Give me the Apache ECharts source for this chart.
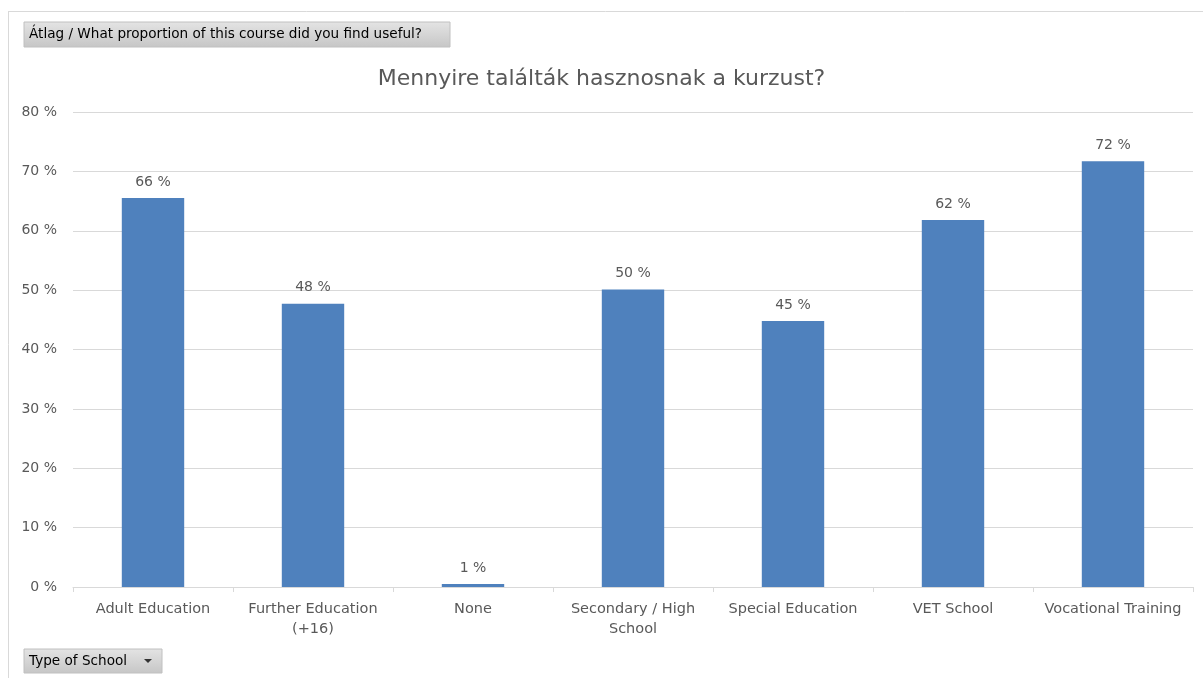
<!DOCTYPE html>
<html>
<head>
<meta charset="utf-8">
<script src="https://cdn.jsdelivr.net/npm/echarts@6/dist/echarts.min.js"></script>
<style>
  html, body { margin: 0; padding: 0; background: #fff; }
  #chart { width: 1203px; height: 678px; }
</style>
</head>
<body>
<div id="chart"></div>
<script>
// chart data
const schoolTypes = ['Adult Education', 'Further Education\n(+16)', 'None', 'Secondary / High\nSchool', 'Special Education', 'VET School', 'Vocational Training'];
const usefulShare = [65.5, 47.7, 0.5, 50.1, 44.8, 61.8, 71.7];
const shareLabels = ['66 %', '48 %', '1 %', '50 %', '45 %', '62 %', '72 %'];

const chartTitle = 'Mennyire találták hasznosnak a kurzust?';
const filterButton = 'Átlag / What proportion of this course did you find useful?';
const axisButton = 'Type of School';

const textGray = '#595959';
const lineGray = '#d9d9d9';
const font = 'DejaVu Sans';

const mychart = echarts.init(document.getElementById('chart'));

const buttonFill = () => new echarts.graphic.LinearGradient(0, 0, 0, 1, [
    { offset: 0, color: '#e4e4e4' },
    { offset: 1, color: '#c6c6c6' }
]);

const option = {
    animation: false,
    title: {
        text: chartTitle,
        left: 'center',
        top: 63,
        textStyle: {
            fontFamily: font,
            fontSize: 22,
            fontWeight: 'normal',
            color: textGray
        }
    },
    grid: {
        left: 73,
        right: 10,
        top: 112,
        bottom: 91
    },
    xAxis: {
        type: 'category',
        data: schoolTypes,
        axisLine: { lineStyle: { color: lineGray } },
        axisTick: { show: true, length: 5, lineStyle: { color: lineGray } },
        axisLabel: {
            fontFamily: font,
            fontSize: 14.5,
            color: textGray,
            lineHeight: 20,
            margin: 12,
            interval: 0
        }
    },
    yAxis: {
        type: 'value',
        min: 0,
        max: 80,
        interval: 10,
        axisLine: { show: false },
        axisTick: { show: false },
        axisLabel: {
            formatter: '{value} %',
            fontFamily: font,
            fontSize: 14,
            color: textGray,
            margin: 16
        },
        splitLine: { lineStyle: { color: lineGray } }
    },
    series: [
        {
            type: 'bar',
            data: usefulShare,
            barWidth: '39%',
            itemStyle: { color: '#4f81bd' },
            label: {
                show: true,
                position: 'top',
                distance: 9,
                fontFamily: font,
                fontSize: 14,
                color: textGray,
                formatter: (p) => shareLabels[p.dataIndex]
            }
        }
    ],
    graphic: [
        // outer frame
        { type: 'line', shape: { x1: 8, y1: 11.5, x2: 1203, y2: 11.5 }, style: { stroke: lineGray, lineWidth: 1 } },
        { type: 'line', shape: { x1: 8.5, y1: 11, x2: 8.5, y2: 678 }, style: { stroke: lineGray, lineWidth: 1 } },
        // pivot field buttons
        {
            type: 'rect',
            shape: { x: 24, y: 22, width: 426, height: 25 },
            style: { fill: buttonFill(), stroke: '#c0c0c0' }
        },
        {
            type: 'text',
            x: 29, y: 34.5,
            style: {
                text: filterButton,
                fontFamily: font,
                fontSize: 13.6,
                fill: '#000',
                verticalAlign: 'middle'
            }
        },
        {
            type: 'rect',
            shape: { x: 24, y: 649, width: 138, height: 24 },
            style: { fill: buttonFill(), stroke: '#c0c0c0' }
        },
        {
            type: 'text',
            x: 29, y: 661,
            style: {
                text: axisButton,
                fontFamily: font,
                fontSize: 13.6,
                fill: '#000',
                verticalAlign: 'middle'
            }
        },
        {
            type: 'polygon',
            shape: { points: [[144, 659], [152, 659], [148, 663]] },
            style: { fill: '#333' }
        }
    ]
};

mychart.setOption(option);
</script>
</body>
</html>
